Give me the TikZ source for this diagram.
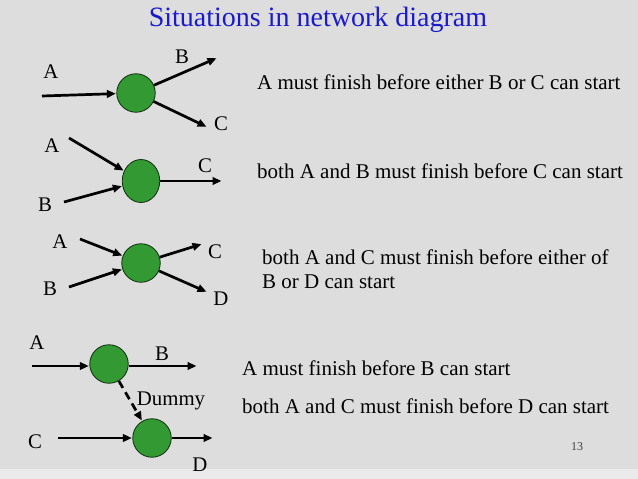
\documentclass[tikz,border=0pt]{standalone}
\usepackage{fontspec}
\setmainfont{Liberation Serif}
\usetikzlibrary{arrows.meta}
\definecolor{bg}{HTML}{DDDDDD}
\definecolor{bgl}{HTML}{EAEAEA}
\definecolor{ev}{HTML}{339933}
\definecolor{ttl}{HTML}{1A1ACC}
\tikzset{
  evnode/.style={circle,draw=black!70!ev,line width=0.8pt,fill=ev,minimum size=38.5pt,inner sep=0pt},
  evell/.style={ellipse,draw=black!70!ev,line width=0.8pt,fill=ev,minimum width=37.5pt,minimum height=43pt,inner sep=0pt},
  arr/.style={line width=2.7pt,-{Triangle[length=9pt,width=7.5pt]},shorten >=0.5pt},
  darr/.style={arr,dash pattern=on 8pt off 5pt},
  lbl/.style={font=\fontsize{20.8}{24}\selectfont,inner sep=0pt},
  txt/.style={font=\fontsize{21}{25}\selectfont,inner sep=0pt,anchor=base west},
}
\usetikzlibrary{shapes.geometric}
\begin{document}
\begin{tikzpicture}[x=1pt,y=-1pt]
\fill[bg] (0,0) rectangle (638,479);
\fill[bgl] (0,469) rectangle (638,479);
\useasboundingbox (0,0) rectangle (638,479);
% title
\node[font=\fontsize{28}{32}\selectfont,text=ttl,inner sep=0pt,anchor=base] (title) at (318,27) {Situations in network diagram};
% diagram 1
\node[evnode] (n1) at (136,93) {};
\coordinate (a1) at (42,96);
\coordinate (b1) at (217,58);
\coordinate (c1) at (207,127);
\draw[arr] (a1) -- (n1);
\draw[arr] (n1) -- (b1);
\draw[arr] (n1) -- (c1);
\node[lbl] (la1) at (51,72) {A};
\node[lbl] (lb1) at (182,57) {B};
\node[lbl] (lc1) at (221,124) {C};
\node[txt] (t1) at (257,89) {A must finish before either B or C can start};
% diagram 2
\node[evell] (n2) at (141,181) {};
\coordinate (a2) at (69,138);
\coordinate (b2) at (64,202);
\coordinate (c2) at (222,181);
\draw[arr] (a2) -- (n2);
\draw[arr] (b2) -- (n2);
\draw[arr] (n2) -- (c2);
\node[lbl] (la2) at (52,146) {A};
\node[lbl] (lb2) at (45,205) {B};
\node[lbl] (lc2) at (205,166) {C};
\node[txt] (t2) at (257,178) {both A and B must finish before C can start};
% diagram 3
\node[evnode] (n3) at (141,263) {};
\coordinate (a3) at (80,239);
\coordinate (b3) at (69,287);
\coordinate (c3) at (202,244);
\coordinate (d3) at (207,292);
\draw[arr] (a3) -- (n3);
\draw[arr] (b3) -- (n3);
\draw[arr] (n3) -- (c3);
\draw[arr] (n3) -- (d3);
\node[lbl] (la3) at (60,242) {A};
\node[lbl] (lb3) at (50,289) {B};
\node[lbl] (lc3) at (215,252) {C};
\node[lbl] (ld3) at (221,299) {D};
\node[txt] (t3) at (262,264) {both A and C must finish before either of};
\node[txt] (t3b) at (262,288) {B or D can start};
% diagram 4
\node[evnode] (n4) at (109,364) {};
\node[evnode] (n5) at (152,438) {};
\coordinate (a4) at (32,366);
\coordinate (b4) at (197,366);
\coordinate (c5) at (58,438);
\coordinate (d5) at (213,438);
\draw[arr] (a4) -- (a4 -| n4.west);
\draw[arr] (n4.east |- b4) -- (b4);
\draw[arr] (c5) -- (n5);
\draw[arr] (n5) -- (d5);
\draw[darr] (n4) -- (n5);
\node[lbl] (la4) at (37,343) {A};
\node[lbl] (lb4) at (162,354) {B};
\node[lbl] (ldum) at (171,401) {Dummy};
\node[lbl] (lc5) at (35,442) {C};
\node[lbl] (ld5) at (200,465) {D};
\node[txt] (t4) at (242,375) {A must finish before B can start};
\node[txt] (t5) at (242,413) {both A and C must finish before D can start};
\node[font=\fontsize{12}{14}\selectfont,text=black!75,inner sep=0pt] (pg) at (577,447) {13};
\end{tikzpicture}
\end{document}
